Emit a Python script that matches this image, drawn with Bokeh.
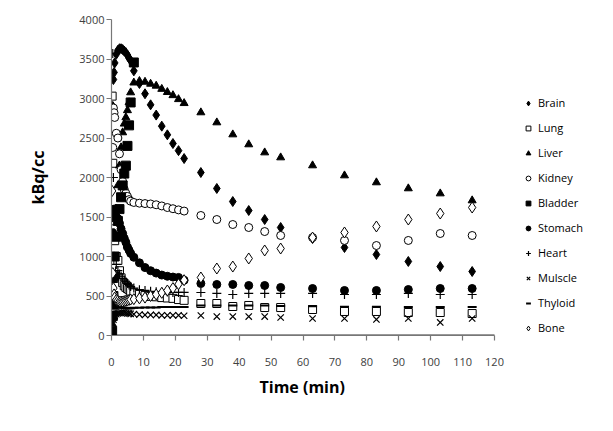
from bokeh.plotting import figure
from bokeh.models import Range1d, FixedTicker, Legend, LegendItem, Title
from bokeh.embed import file_html
from bokeh.resources import INLINE

# ---- data (time in min, activity in kBq/cc) ----
t_early = [0.2, 0.4, 0.6, 0.8, 1.0, 1.5, 2.0, 2.5, 3.0, 3.5, 4.0, 4.5, 5.0, 5.5, 6.0, 7.0,
           8.75, 10.5, 12.25, 14.0, 15.75, 17.5, 19.25, 21.0, 22.75]
t_late = [28, 33, 38, 43, 48, 53, 63, 73, 83, 93, 103, 113]
time = t_early + t_late

brain = [1500, 2900, 3240, 3330, 3450, 3560, 3610, 3630, 3630, 3620, 3600, 3580, 3550, 3510, 3480, 3350,
         3190, 3060, 2920, 2790, 2650, 2540, 2430, 2340, 2240,
         2063, 1861, 1696, 1582, 1468, 1367, 1228, 1114, 1025, 937, 873, 810]
lung = [3030, 2180, 1580, 1350, 1200, 1000, 950, 820, 730, 670, 630, 610, 595, 580, 560, 540,
        520, 505, 495, 490, 480, 475, 470, 455, 445,
        405, 405, 367, 380, 354, 354, 329, 304, 304, 291, 291, 278]
liver = [150, 400, 700, 1000, 1250, 1600, 1900, 2150, 2380, 2570, 2680, 2760, 2850, 2950, 3076, 3200,
         3220, 3210, 3185, 3160, 3120, 3080, 3040, 2990, 2940,
         2823, 2696, 2544, 2418, 2316, 2253, 2152, 2025, 1937, 1861, 1797, 1709]
kidney = [780, 2380, 2880, 2820, 2760, 2560, 2500, 2300, 2100, 1950, 1850, 1800, 1760, 1720, 1700, 1684,
          1675, 1670, 1665, 1655, 1640, 1620, 1605, 1590, 1575,
          1519, 1468, 1405, 1367, 1316, 1266, 1240, 1203, 1139, 1203, 1291, 1266]
bladder_time = [0.2, 0.4, 0.6, 0.8, 1.0, 1.5, 2.0, 2.5, 3.0, 3.5, 4.0, 4.5, 5.0, 5.5, 6.0, 7.0]
bladder = [60, 250, 500, 750, 1000, 1250, 1450, 1600, 1750, 1900, 2050, 2150, 2400, 2660, 2950, 3456]
stomach = [600, 1300, 1550, 1600, 1550, 1500, 1480, 1420, 1350, 1290, 1230, 1180, 1120, 1080, 1040, 990,
           920, 860, 820, 790, 765, 750, 740, 735, 700,
           658, 646, 646, 633, 633, 608, 595, 570, 570, 582, 595, 595]
heart = [1500, 3570, 2000, 1300, 1000, 900, 820, 780, 750, 720, 700, 680, 660, 640, 620, 600,
         580, 570, 560, 555, 550, 550, 545, 545, 545,
         544, 532, 519, 532, 532, 532, 532, 519, 519, 532, 519, 519]
muscle = [60, 150, 200, 230, 250, 270, 280, 285, 290, 290, 290, 285, 280, 280, 275, 270,
          265, 260, 260, 260, 255, 255, 255, 255, 250,
          253, 240, 240, 240, 240, 228, 215, 215, 203, 215, 165, 215]
thyroid = [80, 200, 300, 340, 360, 370, 365, 360, 355, 350, 350, 345, 345, 345, 345, 350,
           350, 355, 355, 355, 360, 360, 360, 360, 360,
           380, 380, 380, 380, 380, 375, 370, 365, 365, 360, 360, 360]
bone = [1830, 790, 600, 520, 480, 450, 440, 430, 430, 430, 435, 440, 445, 450, 455, 460,
        470, 480, 500, 520, 540, 570, 600, 650, 700,
        734, 848, 873, 975, 1076, 1101, 1240, 1304, 1380, 1468, 1544, 1620]

x_ticks = list(range(0, 121, 10))
y_ticks = list(range(0, 4001, 500))
x_max = 120
y_max = 4000

# frame spans to the right edge so the legend can sit inside it; axis limited to 0..120
frame_w = 597 - 111
axis_w = 383
p = figure(width=597, height=415, output_backend="svg", toolbar_location=None,
           x_range=Range1d(0, x_max * frame_w / axis_w), y_range=Range1d(0, y_max),
           min_border_left=111, min_border_right=0, min_border_top=19, min_border_bottom=80)
p.outline_line_color = None
p.grid.visible = False
p.background_fill_color = "white"
p.border_fill_color = "white"

# baseline of the x axis (0..x_max), in case the axis line is hidden by the frame
p.segment(x0=[0], y0=[0], x1=[x_max], y1=[0], line_color="#777777", line_width=2.4)

series = [
    ("Brain", time, brain, "diamond", "black", 10),
    ("Lung", time, lung, "square", "white", 8),
    ("Liver", time, liver, "triangle", "black", 8),
    ("Kidney", time, kidney, "circle", "white", 8),
    ("Bladder", bladder_time, bladder, "square", "black", 9),
    ("Stomach", time, stomach, "circle", "black", 8),
    ("Heart", time, heart, "cross", "black", 9),
    ("Mulscle", time, muscle, "x", "black", 9),
    ("Thyloid", time, thyroid, "dash", "black", 9),
    ("Bone", time, bone, "diamond", "white", 11),
]
items = []
for name, xs, ys, mk, fill, sz in series:
    r = p.scatter(xs, ys, marker=mk, size=sz, fill_color=fill, line_color="black",
                  line_width=1.2 if mk in ("cross", "x") else (2 if mk == "dash" else 1))
    items.append(LegendItem(label=name, renderers=[r]))

for ax in (p.xaxis[0], p.yaxis[0]):
    ax.axis_line_color = "#777777"
    ax.axis_line_width = 1.2
    ax.major_tick_line_color = "#777777"
    ax.major_tick_line_width = 1.2
    ax.minor_tick_line_color = None
    ax.major_tick_out = 5
    ax.major_tick_in = 0
    ax.major_label_text_font = "Open Sans"
    ax.major_label_text_font_size = "11px"
    ax.major_label_text_color = "#404040"
    ax.axis_label_text_font = "Open Sans"
    ax.axis_label_text_font_style = "bold"
    ax.axis_label_text_font_size = "16px"
    ax.axis_label_text_color = "black"

p.xaxis.ticker = FixedTicker(ticks=x_ticks)
p.yaxis.ticker = FixedTicker(ticks=y_ticks)
p.xaxis.bounds = (0, x_max)
p.yaxis.axis_label = "kBq/cc"
p.xaxis.major_label_standoff = 17
p.yaxis.major_label_standoff = 2
p.yaxis.axis_label_standoff = 27

xt = Title(text="Time (min)", align="left", offset=148, text_font="Open Sans",
           text_font_size="16px", text_font_style="bold", text_color="black")
p.add_layout(xt, "below")

lg = Legend(items=items, location=(411, 0))
lg.border_line_color = None
lg.background_fill_alpha = 0
lg.padding = 0
lg.margin = 0
lg.spacing = 10
lg.glyph_width = 12
lg.glyph_height = 12
lg.label_height = 12
lg.label_standoff = 4
lg.label_text_font = "Open Sans"
lg.label_text_font_size = "11px"
lg.label_text_color = "black"
p.add_layout(lg, "center")

open("out.html", "w").write(file_html(p, INLINE))
